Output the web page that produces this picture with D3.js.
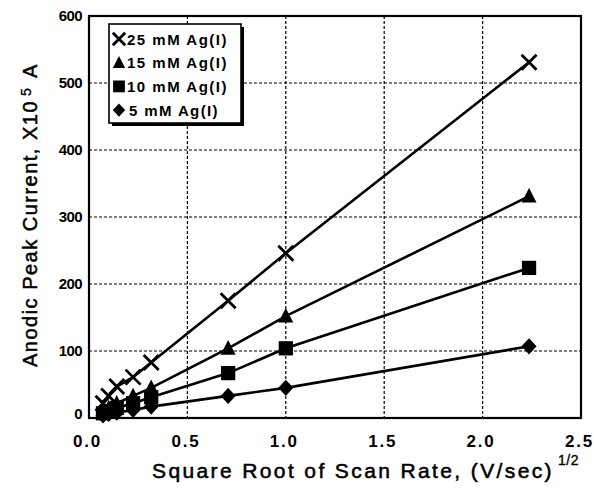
<!DOCTYPE html>
<html>
<head>
<meta charset="utf-8">
<script src="https://cdn.jsdelivr.net/npm/d3@7/dist/d3.min.js"></script>
<style>
  html, body { margin: 0; padding: 0; background: #fff; }
  svg { display: block; }
  text { font-family: "Liberation Sans", Arial, sans-serif; fill: #000; }
</style>
</head>
<body>
<svg id="chart" width="594" height="495"></svg>
<script>
// Square root of scan rate, (V/sec)^1/2
const scanRoot = [0.071, 0.1, 0.141, 0.224, 0.316, 0.707, 1.0, 2.236];
// Anodic peak current, X10^5 A, for each Ag(I) concentration
const ag25 = [22, 33, 47, 61, 83, 175, 246, 531];
const ag15 = [10, 15, 22, 33, 45, 104, 152, 331];
const ag10 = [7, 10, 15, 22, 31, 67, 104, 224];
const ag5 = [4, 6, 8, 12, 17, 33, 45, 107];
const seriesNames = ["25 mM Ag(I)", "15 mM Ag(I)", "10 mM Ag(I)", "5 mM Ag(I)"];
const seriesShapes = ["cross", "triangle", "square", "diamond"];
const xTicks = [0.0, 0.5, 1.0, 1.5, 2.0, 2.5];
const yTicks = [0, 100, 200, 300, 400, 500, 600];

const svg = d3.select("#chart");
const pLeft = 89, pRight = 581, pTop = 16, pBottom = 418;

const x = d3.scaleLinear().domain([0, 2.5]).range([pLeft, pRight]);
const y = d3.scaleLinear().domain([0, 600]).range([pBottom, pTop]);

// spread a text's letters so that it covers the given width
function fitWidth(sel, width) {
  const node = sel.node();
  sel.style("letter-spacing", "0px");
  const len = node.getComputedTextLength();
  const n = node.textContent.length;
  sel.style("letter-spacing", ((width - len) / n) + "px");
}

// dashed grid
const grid = svg.append("g");
grid.selectAll("line.gx").data(xTicks.slice(1, -1)).join("line")
  .attr("x1", d => x(d)).attr("x2", d => x(d))
  .attr("y1", pTop).attr("y2", pBottom)
  .attr("stroke", "#000").attr("stroke-width", 1.2).attr("stroke-dasharray", "3,2");
grid.selectAll("line.gy").data(yTicks.slice(1, -1)).join("line")
  .attr("y1", d => y(d)).attr("y2", d => y(d))
  .attr("x1", pLeft).attr("x2", pRight)
  .attr("stroke", "#000").attr("stroke-width", 1.2).attr("stroke-dasharray", "3,2");

// plot frame
svg.append("rect").attr("x", pLeft).attr("y", pTop)
  .attr("width", pRight - pLeft).attr("height", pBottom - pTop)
  .attr("fill", "none").attr("stroke", "#000").attr("stroke-width", 2.2);

// axes (labels only, frame drawn above)
const xAxis = svg.append("g").attr("transform", `translate(0,${pBottom})`)
  .call(d3.axisBottom(x).tickValues(xTicks).tickFormat(d3.format(".1f")).tickSize(0).tickPadding(17));
xAxis.select(".domain").remove();
xAxis.selectAll("text")
  .attr("dx", -2)
  .style("font-size", "17px").style("font-weight", "bold").style("letter-spacing", "1.8px")
  .style("font-family", '"Liberation Sans", Arial, sans-serif');

const yAxis = svg.append("g").attr("transform", `translate(${pLeft},0)`)
  .call(d3.axisLeft(y).tickValues(yTicks).tickSize(0).tickPadding(7));
yAxis.select(".domain").remove();
yAxis.selectAll("text")
  .attr("dy", "0.3em")
  .style("font-size", "15px").style("font-weight", "bold").style("letter-spacing", "-0.6px")
  .style("font-family", '"Liberation Sans", Arial, sans-serif');
yAxis.selectAll(".tick").filter(d => d === 0).select("text").attr("dy", "0.0em");

// series lines and markers
const series = [ag25, ag15, ag10, ag5];
const line = d3.line().x((d, i) => x(scanRoot[i])).y(d => y(d));

function drawMarker(g, shape, cx, cy, s) {
  if (shape === "cross") {
    g.append("path")
      .attr("d", `M${cx - s},${cy - s}L${cx + s},${cy + s}M${cx - s},${cy + s}L${cx + s},${cy - s}`)
      .attr("stroke", "#000").attr("stroke-width", 2.8).attr("fill", "none");
  } else if (shape === "triangle") {
    g.append("path")
      .attr("d", `M${cx},${cy - s * 1.1}L${cx + s},${cy + s * 0.85}L${cx - s},${cy + s * 0.85}Z`)
      .attr("fill", "#000");
  } else if (shape === "square") {
    g.append("rect").attr("x", cx - s * 0.95).attr("y", cy - s * 0.95)
      .attr("width", s * 1.9).attr("height", s * 1.9).attr("fill", "#000");
  } else {
    g.append("path")
      .attr("d", `M${cx},${cy - s * 1.08}L${cx + s},${cy}L${cx},${cy + s * 1.08}L${cx - s},${cy}Z`)
      .attr("fill", "#000");
  }
}

const plot = svg.append("g");
series.forEach((vals) => {
  plot.append("path").datum(vals).attr("d", line)
    .attr("fill", "none").attr("stroke", "#000").attr("stroke-width", 2.6);
});
series.forEach((vals, k) => {
  vals.forEach((v, i) => drawMarker(plot, seriesShapes[k], x(scanRoot[i]), y(v), 7.5));
});

// legend
const lg = svg.append("g");
const lx = 109, ly = 24, lw = 132, lh = 99;
lg.append("rect").attr("x", lx + 3).attr("y", ly + 3).attr("width", lw).attr("height", lh).attr("fill", "#000");
lg.append("rect").attr("x", lx).attr("y", ly).attr("width", lw).attr("height", lh)
  .attr("fill", "#fff").attr("stroke", "#000").attr("stroke-width", 1.6);
seriesNames.forEach((name, k) => {
  const cy = ly + 15 + k * 23.7;
  drawMarker(lg, seriesShapes[k], lx + 10, cy, 6.2);
  const t = lg.append("text").attr("x", k === 3 ? lx + 20 : lx + 18).attr("y", cy + 5.5)
    .style("font-size", "15px").style("font-weight", "bold")
    .text(name);
  fitWidth(t, k === 3 ? 90 : 101);
});

// x axis title
const xt = svg.append("text")
  .attr("x", 152).attr("y", 478)
  .style("font-size", "21px")
  .attr("stroke", "#000").attr("stroke-width", 0.55)
  .text("Square Root of Scan Rate, (V/sec)");
fitWidth(xt, 402);
svg.append("text")
  .attr("x", 558).attr("y", 465)
  .style("font-size", "14px").style("letter-spacing", "0.5px")
  .attr("stroke", "#000").attr("stroke-width", 0.35)
  .text("1/2");

// y axis title, running upward
const yg = svg.append("g").attr("transform", "rotate(-90)");
const yt = yg.append("text")
  .attr("x", -367).attr("y", 37)
  .style("font-size", "20px")
  .attr("stroke", "#000").attr("stroke-width", 0.5)
  .text("Anodic Peak Current, X10");
fitWidth(yt, 267);
yg.append("text")
  .attr("x", -96).attr("y", 31)
  .style("font-size", "14px")
  .attr("stroke", "#000").attr("stroke-width", 0.35)
  .text("5");
yg.append("text")
  .attr("x", -78).attr("y", 37)
  .style("font-size", "20px")
  .attr("stroke", "#000").attr("stroke-width", 0.5)
  .text("A");
</script>
</body>
</html>
